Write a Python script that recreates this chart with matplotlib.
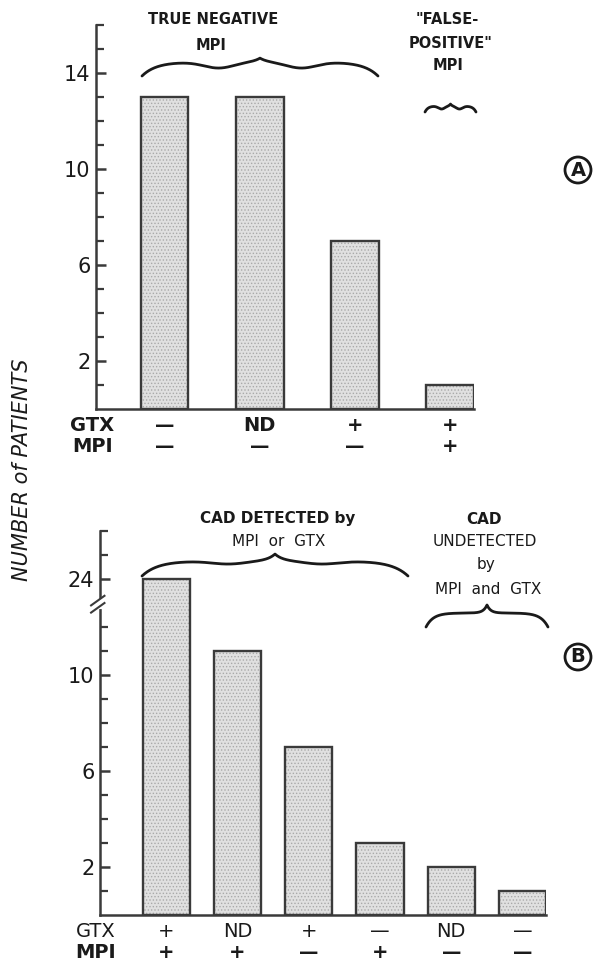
import numpy as np
import matplotlib.pyplot as plt
from matplotlib.transforms import blended_transform_factory
from matplotlib.patches import Circle

plt.rcParams['font.family'] = 'DejaVu Sans'
plt.rcParams['hatch.linewidth'] = 0.6

# panel A: true negative / false positive MPI
a_values = [13, 13, 7, 1]
a_gtx = ['—', 'ND', '+', '+']
a_mpi = ['—', '—', '—', '+']

# panel B: CAD patients (the 24 sits above an axis break)
b_values = [24, 11, 7, 3, 2, 1]
b_gtx = ['+', 'ND', '+', '—', 'ND', '—']
b_mpi = ['+', '+', '—', '+', '—', '—']

tick_pos = [2, 6, 10, 14]
a_ticklabels = ['2', '6', '10', '14']
b_ticklabels = ['2', '6', '10', '24']

bar_face = '#e0e0e0'
dot_col = '#a9a9a9'
edge_col = '#3a3a3a'
ink = '#1a1a1a'


def broken(v):
    # values above 12 are pulled down so 24 lands on the "24" tick (display 14)
    return v if v <= 12 else v - 10


def draw_bars(ax, vals, width):
    x = np.arange(len(vals))
    ax.bar(x, vals, width, color=bar_face, edgecolor=dot_col, hatch='.....', lw=0, zorder=2)
    ax.bar(x, vals, width, fill=False, edgecolor=edge_col, lw=1.7, zorder=3)
    return x


def style_axis(ax, labels, minor):
    for s in ['top', 'right']:
        ax.spines[s].set_visible(False)
    for s in ['left', 'bottom']:
        ax.spines[s].set_linewidth(1.8)
        ax.spines[s].set_color(edge_col)
    ax.set_ylim(0, 16)
    ax.set_yticks(tick_pos)
    ax.set_yticklabels(labels, fontsize=15, color=ink)
    ax.set_yticks(minor, minor=True)
    ax.tick_params(axis='y', which='major', direction='in', length=7, width=1.8, color=edge_col, pad=4)
    ax.tick_params(axis='y', which='minor', direction='in', length=6, width=1.6, color=edge_col)
    ax.set_xticks([])


def row_labels(ax, x, gtx, mpi, gtx_weight, label_x):
    for xi, g, m in zip(x, gtx, mpi):
        ax.annotate(g, (xi, 0), xycoords=('data', 'axes fraction'), xytext=(0, -12),
                    textcoords='offset points', ha='center', va='center', fontsize=14,
                    fontweight=gtx_weight, color=ink, annotation_clip=False)
        ax.annotate(m, (xi, 0), xycoords=('data', 'axes fraction'), xytext=(0, -27),
                    textcoords='offset points', ha='center', va='center', fontsize=14,
                    fontweight='bold', color=ink, annotation_clip=False)
    ax.annotate('GTX', (label_x, 0), xycoords=('data', 'axes fraction'), xytext=(0, -12),
                textcoords='offset points', ha='center', va='center', fontsize=14,
                fontweight=gtx_weight, color=ink, annotation_clip=False)
    ax.annotate('MPI', (label_x, 0), xycoords=('data', 'axes fraction'), xytext=(0, -27),
                textcoords='offset points', ha='center', va='center', fontsize=14,
                fontweight='bold', color=ink, annotation_clip=False)


fig = plt.figure(figsize=(5.94, 9.66), dpi=100)

# ---- panel A
axa = fig.add_axes([96 / 594, 1 - 409 / 966, 378 / 594, 384 / 966])
xa = draw_bars(axa, a_values, 0.5)
axa.set_xlim(-0.72, 3.25)
style_axis(axa, a_ticklabels, [v for v in range(1, 17) if v not in tick_pos])
row_labels(axa, xa, a_gtx, a_mpi, 'bold', -0.76)

# ---- panel B
axb = fig.add_axes([100 / 594, 1 - 915 / 966, 446 / 594, 384 / 966])
xb = draw_bars(axb, [broken(v) for v in b_values], 0.66)
axb.set_xlim(-0.93, 5.33)
style_axis(axb, b_ticklabels, [v for v in range(1, 17) if v not in tick_pos and v != 13])
row_labels(axb, xb, b_gtx, b_mpi, 'normal', -0.99)

# axis break "//"
tr = blended_transform_factory(axb.transAxes, axb.transData)
axb.plot([0, 0], [12.85, 13.1], color='white', lw=3, transform=tr, clip_on=False, zorder=5)
for yy in [12.8, 13.1]:
    axb.plot([-0.02, 0.01], [yy - 0.2, yy + 0.2], color=edge_col, lw=1.5, transform=tr,
             clip_on=False, zorder=6)

# ---- annotation layer in pixel coordinates
ov = fig.add_axes([0, 0, 1, 1], zorder=10)
ov.set_xlim(0, 594)
ov.set_ylim(966, 0)
ov.axis('off')
ov.patch.set_alpha(0)


def brace(x0, x1, yb, h1, h2, sag):
    half = (x1 - x0) / 2
    t = np.linspace(0, 1, 200)
    f = h1 * (1 - np.exp(-t / 0.12)) + h2 * np.exp(-(1 - t) / 0.06) \
        - sag * np.exp(-((t - 0.65) / 0.18) ** 2)
    xs = np.concatenate([x0 + t * half, x1 - t[::-1] * half])
    ys = yb - np.concatenate([f, f[::-1]])
    ov.plot(xs, ys, color=ink, lw=2, solid_capstyle='round')


tkw = dict(ha='center', va='center', color=ink)
ov.text(213, 20, 'TRUE NEGATIVE', fontsize=10.5, fontweight='bold', **tkw)
ov.text(211, 45, 'MPI', fontsize=10.5, fontweight='bold', **tkw)
brace(142, 378, 76, 14, 4, 6)
ov.text(447, 19, '"FALSE-', fontsize=10.5, fontweight='bold', **tkw)
ov.text(451, 43, 'POSITIVE"', fontsize=10.5, fontweight='bold', **tkw)
ov.text(448, 65, 'MPI', fontsize=10.5, fontweight='bold', **tkw)
brace(425, 476, 112, 6, 2, 3)

ov.text(278, 519, 'CAD DETECTED by', fontsize=11, fontweight='bold', **tkw)
ov.text(279, 541, 'MPI  or  GTX', fontsize=11, **tkw)
brace(142, 408, 576, 15, 7, 3)
ov.text(484, 519, 'CAD', fontsize=11, fontweight='bold', **tkw)
ov.text(485, 541, 'UNDETECTED', fontsize=11, **tkw)
ov.text(486, 564, 'by', fontsize=11, **tkw)
ov.text(488, 589, 'MPI  and  GTX', fontsize=11, **tkw)
brace(426, 548, 627, 14, 8, 0)

for lab, cy in [('A', 170), ('B', 657)]:
    ov.add_patch(Circle((578, cy), 13, fill=False, lw=2, color=ink))
    ov.text(578, cy, lab, fontsize=14, fontweight='bold', **tkw)

fig.text(22 / 594, 1 - 470 / 966, 'NUMBER of PATIENTS', rotation=90, fontsize=15,
         style='italic', ha='center', va='center', color=ink)

fig.savefig('out.png', dpi=100)
